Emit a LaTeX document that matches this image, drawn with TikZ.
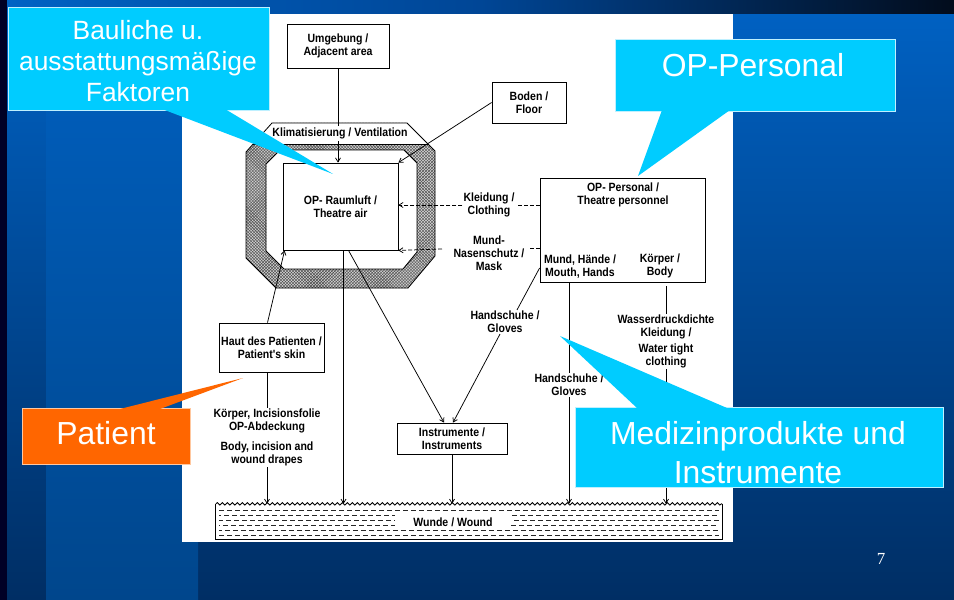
\documentclass[tikz,border=0pt]{standalone}
\usepackage{fontspec}
\setmainfont{Liberation Sans}
\newfontfamily\diag[FakeStretch=0.88]{Liberation Sans}
\newfontfamily\pgnum{Liberation Serif}
\usetikzlibrary{arrows.meta,patterns,decorations.pathmorphing,calc}
\definecolor{slidetop}{RGB}{0,98,196}
\definecolor{slidebot}{RGB}{0,46,100}
\definecolor{bandtop}{RGB}{0,96,192}
\definecolor{bandbot}{RGB}{0,70,140}
\definecolor{barmid}{RGB}{0,70,150}
\definecolor{barright}{RGB}{2,12,28}
\definecolor{cyanbox}{RGB}{0,204,255}
\definecolor{cyanedge}{RGB}{190,240,255}
\definecolor{orangebox}{RGB}{255,102,0}
\definecolor{orangeedge}{RGB}{255,200,160}
\newcommand\diagfont{\diag\bfseries\fontsize{12}{13}\selectfont}
\begin{document}
\begin{tikzpicture}[x=1bp,y=-1bp,
  box/.style={draw=black,line width=0.8bp,inner sep=0pt,align=center,font=\diagfont},
  lbl/.style={align=center,font=\diagfont,inner sep=1bp},
  conn/.style={line width=0.75bp},
  arr/.style={conn,-{Straight Barb[length=4bp,width=5bp]}},
  dsh/.style={dash pattern=on 4bp off 2bp},
  cbox/.style={fill=cyanbox,draw=cyanedge,line width=0.8bp},
  obox/.style={fill=orangebox,draw=orangeedge,line width=0.8bp},
  ctext/.style={text=white,align=center,inner sep=0pt}
]
\useasboundingbox (0,0) rectangle (954,600);
% slide background
\shade[top color=slidetop,bottom color=slidebot] (0,0) rectangle (954,600);
\shade[top color=bandtop,bottom color=bandbot] (46,14) rectangle (198,600);
\fill[black!85!blue] (0,0) rectangle (7,600);
\shade[left color=slidetop,right color=barright,middle color=barmid] (7,0) rectangle (954,14);
% white figure panel
\fill[white] (182,14) rectangle (733,542);
% hatched ring around theatre air
\def\outer{(272,123) -- (407,123) -- (435,151) -- (435,256) -- (408,288) -- (276,288) -- (246,258) -- (246,152) -- cycle}
\def\inner{(280,150) -- (404,150) -- (417,163) -- (417,252) -- (403,269) -- (284,269) -- (266,251) -- (266,164) -- cycle}
\fill[black!18,even odd rule] \outer \inner;
\fill[pattern=crosshatch,pattern color=black!70,even odd rule] \outer \inner;
\begin{scope}
  \clip \outer;
  \fill[white] (240,118) rectangle (440,144);
\end{scope}
\draw[line width=0.8bp] (253,144) -- (428,144);
\draw[line width=0.8bp] \outer;
\draw[line width=0.8bp] \inner;
% boxes
\node[box,minimum width=102bp,minimum height=44bp] (umg) at (338,46) {Umgebung /\\Adjacent area};
\node[box,minimum width=74bp,minimum height=41bp] (boden) at (529,102.5) {Boden /\\Floor};
\node[box,fill=white,minimum width=115bp,minimum height=87bp] (air) at (340.5,206.5) {OP- Raumluft /\\Theatre air};
\node[box,minimum width=165bp,minimum height=104bp] (pers) at (622.5,230) {};
\node[lbl] (perst) at (623,195) {OP- Personal /\\Theatre personnel};
\node[lbl] (mh) at (580,266.5) {Mund, Hände /\\Mouth, Hands};
\node[lbl] (kb) at (660,265.5) {Körper /\\Body};
\node[lbl] (kleid) at (489,205) {Kleidung /\\Clothing};
\node[lbl] (mask) at (489,253) {Mund-\\Nasenschutz /\\Mask};
\node[lbl] (glovesL) at (505,322) {Handschuhe /\\Gloves};
\node[lbl] (glovesR) at (569,385) {Handschuhe /\\Gloves};
\node[lbl] (wasser) at (666,341.5) {Wasserdruckdichte\\Kleidung /\\[3bp]Water tight\\clothing};
\node[box,minimum width=105bp,minimum height=49bp] (haut) at (271.5,347.5) {Haut des Patienten /\\Patient's skin};
\node[lbl] (koerp) at (267,437.5) {Körper, Incisionsfolie\\OP-Abdeckung\\[7bp]Body, incision and\\wound drapes};
\node[box,minimum width=110bp,minimum height=31bp] (instr) at (452,438.5) {Instrumente /\\Instruments};
\node[minimum width=506bp,minimum height=35bp,inner sep=0pt] (wound) at (469,521.5) {};
\coordinate (mkR) at (528,248);
\coordinate (mkL) at (442,249);
% connectors
\draw[arr] (umg.south) -- (umg.south |- air.north);
\node[lbl,fill=white,inner sep=1.5bp] (klima) at (340,133.5) {Klimatisierung / Ventilation};
\draw[arr] (boden.west) -- (air.north east);
\draw[conn,dsh] (pers.west |- kleid) -- (kleid.east);
\draw[arr,dsh] (kleid.west) -- (kleid.west -| air.east);
\draw[conn,dsh] (pers.west |- mkR) -- (mkR);
\draw[arr,dsh] (mkL) -- (air.south east);
\draw[arr] ([xshift=-4bp]haut.north) -- ([xshift=2bp]air.south west);
\draw[arr] ([xshift=3bp]air.south) -- ([xshift=3bp]air.south |- wound.north);
\draw[arr] ([xshift=8bp]air.south) -- ([xshift=-8bp]instr.north);
\draw[arr] ([xshift=-5bp]glovesL.south) -- ([xshift=1bp]instr.north);
\draw[conn] ([yshift=-38bp]pers.west) -- ([xshift=12bp]glovesL.north);
\draw[conn] (glovesR.north |- pers.south) -- (glovesR.north);
\draw[arr] (glovesR.south) -- (glovesR.south |- wound.north);
\draw[conn] ([yshift=-4bp]wasser.north |- pers.south) -- (wasser.north);
\draw[arr] (wasser.south) -- (wasser.south |- wound.north);
\draw[conn] (koerp.north |- haut.south) -- (koerp.north);
\draw[arr] (koerp.south) -- (koerp.south |- wound.north);
\draw[arr] (instr.south) -- (instr.south |- wound.north);
% wound band
\foreach \yy/\ph in {510/0,515/3,520/1,525/4,530/2,535/0}
  \draw[black!85,line width=1bp,dash pattern=on 5bp off 3bp,dash phase=\ph bp] (219,\yy) -- (719,\yy);
\draw[line width=0.9bp,decorate,decoration={snake,segment length=5bp,amplitude=1.2bp}] (wound.north west) -- (wound.north east);
\draw[line width=0.9bp] (wound.north east) -- (wound.south east) -- (wound.south west) -- (wound.north west);
\node[lbl,fill=white,inner xsep=18bp,inner ysep=3bp] (woundt) at (453,522) {Wunde / Wound};
% callouts
\draw[cbox] (8,7) rectangle (269,110);
\fill[cyanbox] (162,109) -- (333,174) -- (225,109) -- cycle;
\node[ctext,font=\fontsize{26.5}{31.5}\selectfont] (baul) at (138,61) {Bauliche u.\\ausstattungsmäßige\\Faktoren};
\draw[cbox] (615,39) rectangle (895,111);
\fill[cyanbox] (662,110) -- (638,176) -- (730,110) -- cycle;
\node[ctext,font=\fontsize{32}{39}\selectfont] (opp) at (753,65) {OP-Personal};
\draw[cbox] (575,407) rectangle (943,487);
\fill[cyanbox] (637,408) -- (560,336) -- (727,408) -- cycle;
\node[ctext,font=\fontsize{32}{39}\selectfont] (medi) at (758,452.5) {Medizinprodukte und\\Instrumente};
\draw[obox] (22,408) rectangle (190,464);
\fill[orangebox] (120,409) -- (243,378) -- (160,409) -- cycle;
\node[ctext,font=\fontsize{32}{39}\selectfont] (pat) at (106,433) {Patient};
\node[text=white,font=\pgnum\fontsize{17}{20}\selectfont] (pg) at (881,559) {7};
\end{tikzpicture}
\end{document}
